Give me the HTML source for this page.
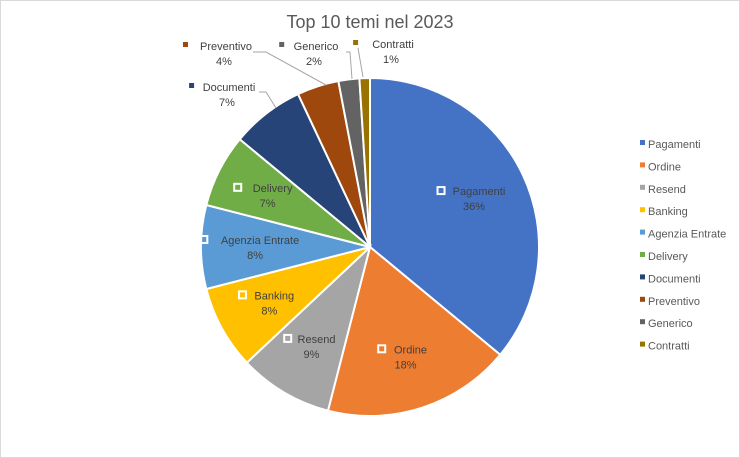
<!DOCTYPE html>
<html><head><meta charset="utf-8"><style>
body{margin:0;background:#fff}
svg{display:block;font-family:"Liberation Sans",sans-serif}
</style></head><body>
<svg width="740" height="458" viewBox="0 0 740 458">
<rect x="0.5" y="0.5" width="739" height="457" fill="#fff" stroke="#d9d9d9"/>
<text x="370" y="28" text-anchor="middle" font-size="18" fill="#595959">Top 10 temi nel 2023</text>
<g id="slices"></g><g id="leaders"></g><g id="labels"></g><g id="legend"></g>
</svg>
<script>
const categories=["Pagamenti","Ordine","Resend","Banking","Agenzia Entrate","Delivery","Documenti","Preventivo","Generico","Contratti"];
const values=[36,18,9,8,8,7,7,4,2,1];
const colors=["#4472C4","#ED7D31","#A5A5A5","#FFC000","#5B9BD5","#70AD47","#264478","#9E480E","#636363","#997300"];
const NS="http://www.w3.org/2000/svg";
const cx=370,cy=247,r=169;
const total=values.reduce((a,b)=>a+b,0);
function pt(a,rad){return [cx+rad*Math.sin(a),cy-rad*Math.cos(a)];}
function mk(tag,attrs,parent){const e=document.createElementNS(NS,tag);for(const k in attrs)e.setAttribute(k,attrs[k]);parent.appendChild(e);return e;}
const gS=document.getElementById('slices'),gL=document.getElementById('labels'),gLd=document.getElementById('leaders'),gG=document.getElementById('legend');
const outside={6:[229,91,"m 259 92 L 266 92 L 276 108"],7:[226,50,"m 253 52 L 266 52 L 326 85"],8:[316,50,"m 346 52 L 350 52 L 352 79"],9:[393,48,"m 358 48 L 363 77"]};
let acc=0;
values.forEach((v,i)=>{
  const a0=acc/total*2*Math.PI; acc+=v; const a1=acc/total*2*Math.PI;
  const p0=pt(a0,r),p1=pt(a1,r),large=(a1-a0)>Math.PI?1:0;
  const s=mk('path',{d:`M${cx},${cy} L${p0[0]},${p0[1]} A${r},${r} 0 ${large} 1 ${p1[0]},${p1[1]} Z`,fill:colors[i],stroke:'#fff','stroke-width':2},gS);
  
  
  const pct=Math.round(v/total*100)+'%';
  const g=mk('g',{},gL);
  
  
  if(outside[i]){
    const [x,y,d]=outside[i];
    const ld=mk('path',{d:d,fill:'none',stroke:'#a6a6a6','stroke-width':1},gLd);
    
    
    const w=categories[i].length*6.2;
    mk('rect',{x:x-w/2-12,y:y-8,width:5,height:5,fill:colors[i]},g);
    const t=mk('text',{x:x,y:y,'text-anchor':'middle','font-size':11,fill:'#404040'},g);t.textContent=categories[i];
    const t2=mk('text',{x:x-2,y:y+15,'text-anchor':'middle','font-size':11,fill:'#404040'},g);t2.textContent=pct;
  } else {
    const m=(a0+a1)/2; const [x,y]=pt(m,r*0.68);
    const w=categories[i].length*6.1;
    mk('rect',{x:x-w/2-9,y:y-11,width:7,height:7,fill:'none',stroke:'#fff','stroke-width':2},g);
    const t=mk('text',{x:x+5,y:y-3,'text-anchor':'middle','font-size':11,fill:'#404040'},g);t.textContent=categories[i];
    const t2=mk('text',{x:x,y:y+12,'text-anchor':'middle','font-size':11,fill:'#404040'},g);t2.textContent=pct;
  }
  const ly=144+i*22.4;
  const lg=mk('g',{},gG);
  
  
  mk('rect',{x:640,y:ly-4,width:5,height:5,fill:colors[i]},lg);
  const lt=mk('text',{x:648,y:ly+4,'font-size':11,fill:'#595959'},lg);lt.textContent=categories[i];
});
</script>
</body></html>
